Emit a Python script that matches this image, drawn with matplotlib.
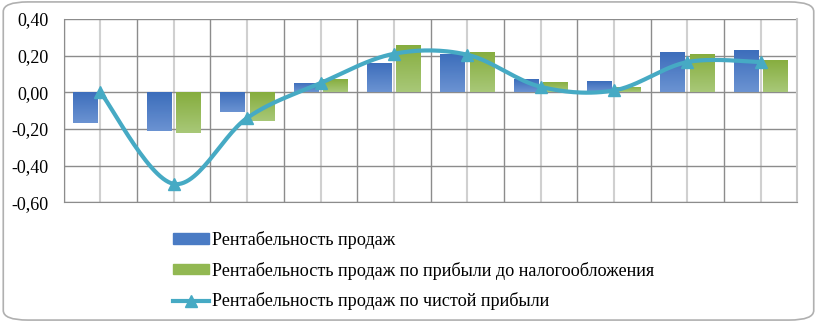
import numpy as np
import matplotlib.pyplot as plt
from matplotlib.patches import FancyBboxPatch
from matplotlib.lines import Line2D
from matplotlib.patches import Patch
from matplotlib.colors import LinearSegmentedColormap

plt.rcParams['font.family'] = ['Liberation Serif', 'DejaVu Serif']

# data
categories = list(range(1, 11))
sales = [-0.17, -0.21, -0.11, 0.05, 0.16, 0.21, 0.07, 0.06, 0.22, 0.23]
pretax = [0.00, -0.22, -0.155, 0.07, 0.26, 0.22, 0.055, 0.03, 0.21, 0.175]
net = [0.00, -0.50, -0.14, 0.05, 0.21, 0.205, 0.03, 0.01, 0.165, 0.165]
labels = ["Рентабельность продаж",
          "Рентабельность продаж по прибыли до налогообложения",
          "Рентабельность продаж по чистой прибыли"]
yticks = [-0.6, -0.4, -0.2, 0.0, 0.2, 0.4]

c_blue = '#4a7bc4'
c_green = '#92b852'
c_line = '#46aac4'
grad_blue = LinearSegmentedColormap.from_list('b', ['#6b93d2', '#3c6dbb'])
grad_green = LinearSegmentedColormap.from_list('g', ['#a8c878', '#86ad3e'])


def smooth(xs, ys, n=30):
    # bezier smoothing like Excel's smoothed line
    xs = np.asarray(xs, float)
    ys = np.asarray(ys, float)
    px = np.concatenate([[xs[0]], xs, [xs[-1]]])
    py = np.concatenate([[ys[0]], ys, [ys[-1]]])
    ox, oy = [], []
    t = np.linspace(0, 1, n)
    for i in range(1, len(px) - 2):
        p0, p1, p2, p3 = [np.array([px[j], py[j]]) for j in (i - 1, i, i + 1, i + 2)]
        c1 = p1 + (p2 - p0) / 6
        c2 = p2 - (p3 - p1) / 6
        b = ((1 - t) ** 3)[:, None] * p1 + (3 * (1 - t) ** 2 * t)[:, None] * c1 \
            + (3 * (1 - t) * t ** 2)[:, None] * c2 + (t ** 3)[:, None] * p2
        ox.extend(b[:, 0]); oy.extend(b[:, 1])
    return np.array(ox), np.array(oy)


def shade(bars, cmap):
    # vertical gradient inside every bar: darker at top, lighter at bottom
    grad = np.linspace(0, 1, 64).reshape(-1, 1)
    for b in bars:
        x0, y0 = b.get_x(), b.get_y()
        x1, y1 = x0 + b.get_width(), y0 + b.get_height()
        lo, hi = min(y0, y1), max(y0, y1)
        if hi - lo < 1e-6:
            continue
        im = ax.imshow(grad, cmap=cmap, aspect='auto', origin='lower',
                       extent=(x0, x1, lo, hi), zorder=3)
        im.set_clip_path(b)
        b.set_alpha(0)


fig = plt.figure(figsize=(8.17, 3.22), dpi=100)
fig.patches.append(FancyBboxPatch((0.004, 0.006), 0.992, 0.988,
                                  boxstyle='round,pad=0,rounding_size=0.03',
                                  transform=fig.transFigure, fill=False,
                                  edgecolor='#b0b0b0', linewidth=1.2))
ax = fig.add_axes([0.078, 0.372, 0.898, 0.569])

x = np.arange(len(categories))
w = 0.335
b1 = ax.bar(x - 0.2, sales, w, color=c_blue, zorder=3)
b2 = ax.bar(x + 0.2, pretax, w, color=c_green, zorder=3)
sx, sy = smooth(x, net)
ax.plot(sx, sy, color=c_line, lw=3, zorder=4, solid_capstyle='round')
ax.plot(x, net, ls='none', marker='^', ms=9, color=c_line, zorder=5)

ax.set_xlim(-0.5, len(categories) - 0.5)
ax.set_ylim(-0.6, 0.4)
shade(b1, grad_blue)
shade(b2, grad_green)
ax.set_xlim(-0.5, len(categories) - 0.5)
ax.set_ylim(-0.6, 0.4)
ax.set_yticks(yticks)
ax.set_yticklabels([f"{v:.2f}".replace('.', ',') for v in yticks], fontsize=13)
ax.set_xticks(np.arange(-0.5, len(categories), 1))
ax.set_xticks(x, minor=True)
ax.set_xticklabels([])
ax.tick_params(axis='both', length=0)
ax.tick_params(axis='y', pad=11)
ax.tick_params(axis='x', which='minor', length=0)
ax.grid(axis='y', color='#8c8c8c', lw=1, zorder=0)
ax.grid(axis='x', which='major', color='#8c8c8c', lw=1, zorder=0)
ax.grid(axis='x', which='minor', color='#d0d0d0', lw=1.5, zorder=0)
ax.spines['top'].set_visible(False)
ax.spines['left'].set_color('#8c8c8c')
ax.spines['bottom'].set_color('#8c8c8c')
ax.spines['right'].set_color('#c8c8c8')
ax.spines['right'].set_linewidth(1.5)

handles = [Patch(color=c_blue), Patch(color=c_green),
           Line2D([], [], color=c_line, lw=3, marker='^', ms=9)]
fig.legend(handles, labels, loc='upper left', bbox_to_anchor=(0.203, 0.305),
           frameon=False, prop={'family': 'Liberation Serif', 'size': 13.05},
           handlelength=2.0, handleheight=0.5,
           handletextpad=0.12, labelspacing=0.7, borderaxespad=0)

fig.savefig('out.png', dpi=100)
